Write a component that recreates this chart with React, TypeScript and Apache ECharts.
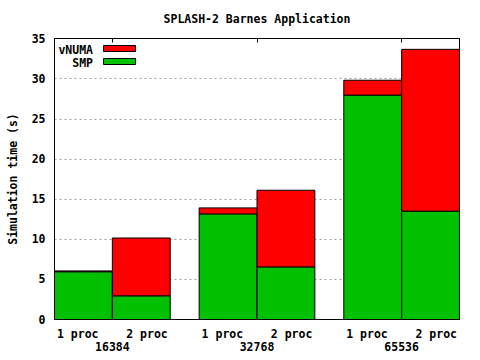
import React, { useEffect, useRef } from "react";
import * as echarts from "echarts";

const groups = ["16384", "32768", "65536"];
const procs = ["1 proc", "2 proc"];
// rows: group, columns: proc
const smp = [
  [5.95, 2.95],
  [13.15, 6.55],
  [27.95, 13.5],
];
const vnuma = [
  [0.1, 7.2],
  [0.75, 9.55],
  [1.85, 20.15],
];
const yTicks = [0, 5, 10, 15, 20, 25, 30, 35];
const title = "SPLASH-2 Barnes Application";
const yName = "Simulation time (s)";

const FONT = "DejaVu Sans Mono";
const GREEN = "#00c000";
const RED = "#ff0000";

// layout: each bar one unit wide, half a unit of space between groups
const barCenter = (g: number, p: number) => g * 2.5 + p + 0.5;
const groupCenter = (g: number) => g * 2.5 + 1;

export default function App() {
  const ref = useRef<HTMLDivElement>(null);
  useEffect(() => {
    if (!ref.current) return;
    const chart = echarts.init(ref.current, null, { renderer: "svg" });

    const smpData: number[][] = [];
    const vnumaData: number[][] = [];
    groups.forEach((_, g) => {
      procs.forEach((_, p) => {
        const x = barCenter(g, p);
        smpData.push([x, 0, smp[g][p]]);
        vnumaData.push([x, smp[g][p], smp[g][p] + vnuma[g][p]]);
      });
    });

    const makeRender = (color: string) => (params: any, api: any) => {
      const x = api.value(0);
      const lo = api.value(1);
      const hi = api.value(2);
      const p0 = api.coord([x - 0.5, hi]);
      const p1 = api.coord([x + 0.5, lo]);
      return {
        type: "rect",
        shape: { x: p0[0], y: p0[1], width: p1[0] - p0[0], height: p1[1] - p0[1] },
        style: { fill: color, stroke: "#000", lineWidth: 1 },
      };
    };

    const centers = groups.map((_, g) => groupCenter(g));
    const labelFor = (v: number) => {
      const g = centers.findIndex((c) => Math.abs(c - v) < 1e-6);
      if (g < 0) return "";
      return procs.join("    ") + "\n" + groups[g];
    };

    const textStyle = { fontFamily: FONT, fontWeight: "bold" as const, fontSize: 11.5, color: "#000" };

    chart.setOption({
      animation: false,
      grid: {
        left: 54.5,
        top: 38.5,
        width: 405,
        height: 281,
        show: true,
        borderColor: "#000",
        borderWidth: 1,
        backgroundColor: "transparent",
      },
      xAxis: [
        {
          type: "value",
          min: 0,
          max: 2.5 * groups.length - 0.5,
          position: "bottom",
          axisLine: { show: true, lineStyle: { color: "#000", width: 1 } },
          axisTick: { show: false },
          splitLine: { show: false },
          axisLabel: {
            customValues: centers,
            formatter: (v: number) => labelFor(v),
            ...textStyle,
            lineHeight: 13,
            margin: 8,
            align: "center",
          },
        },
        {
          type: "value",
          min: 0,
          max: 2.5 * groups.length - 0.5,
          position: "top",
          axisLine: { show: true, lineStyle: { color: "#000", width: 1 } },
          axisTick: {
            show: true,
            inside: true,
            length: 4,
            customValues: centers,
            lineStyle: { color: "#000", width: 1 },
          },
          splitLine: { show: false },
          axisLabel: { show: false },
        },
      ],
      yAxis: {
        type: "value",
        min: yTicks[0],
        max: yTicks[yTicks.length - 1],
        interval: yTicks[1] - yTicks[0],
        axisLine: { show: true, lineStyle: { color: "#000", width: 1 } },
        axisTick: { show: false },
        axisLabel: { ...textStyle, margin: 9 },
        splitLine: {
          show: true,
          showMinLine: false,
          showMaxLine: false,
          lineStyle: { color: "#a0a0a0", width: 1, type: [2, 3] },
        },
      },
      series: [
        {
          name: "SMP",
          type: "custom",
          xAxisIndex: 0,
          renderItem: makeRender(GREEN),
          encode: { x: 0, y: [1, 2] },
          data: smpData,
          itemStyle: { color: GREEN },
          z: 2,
        },
        {
          name: "vNUMA",
          type: "custom",
          xAxisIndex: 0,
          renderItem: makeRender(RED),
          encode: { x: 0, y: [1, 2] },
          data: vnumaData,
          itemStyle: { color: RED },
          z: 3,
        },
      ],
      graphic: [
        {
          type: "text",
          x: 257,
          y: 19,
          style: {
            text: title,
            font: `bold 11.5px "${FONT}"`,
            fill: "#000",
            align: "center",
            verticalAlign: "middle",
          },
        },
        {
          type: "text",
          x: 13,
          y: 179,
          rotation: Math.PI / 2,
          style: {
            text: yName,
            font: `bold 11.5px "${FONT}"`,
            fill: "#000",
            align: "center",
            verticalAlign: "middle",
          },
        },
        {
          type: "text",
          x: 93,
          y: 49.5,
          style: {
            text: "vNUMA",
            font: `bold 11.5px "${FONT}"`,
            fill: "#000",
            align: "right",
            verticalAlign: "middle",
          },
        },
        {
          type: "rect",
          shape: { x: 103.5, y: 45.5, width: 32, height: 6 },
          style: { fill: RED, stroke: "#000", lineWidth: 1 },
          z: 10,
        },
        {
          type: "text",
          x: 93,
          y: 62.5,
          style: {
            text: "SMP",
            font: `bold 11.5px "${FONT}"`,
            fill: "#000",
            align: "right",
            verticalAlign: "middle",
          },
        },
        {
          type: "rect",
          shape: { x: 103.5, y: 58.5, width: 32, height: 6 },
          style: { fill: GREEN, stroke: "#000", lineWidth: 1 },
          z: 10,
        },
      ],
    });
    return () => chart.dispose();
  }, []);
  return <div ref={ref} style={{ width: 480, height: 360, position: "absolute", left: 0, top: 0 }} />;
}
